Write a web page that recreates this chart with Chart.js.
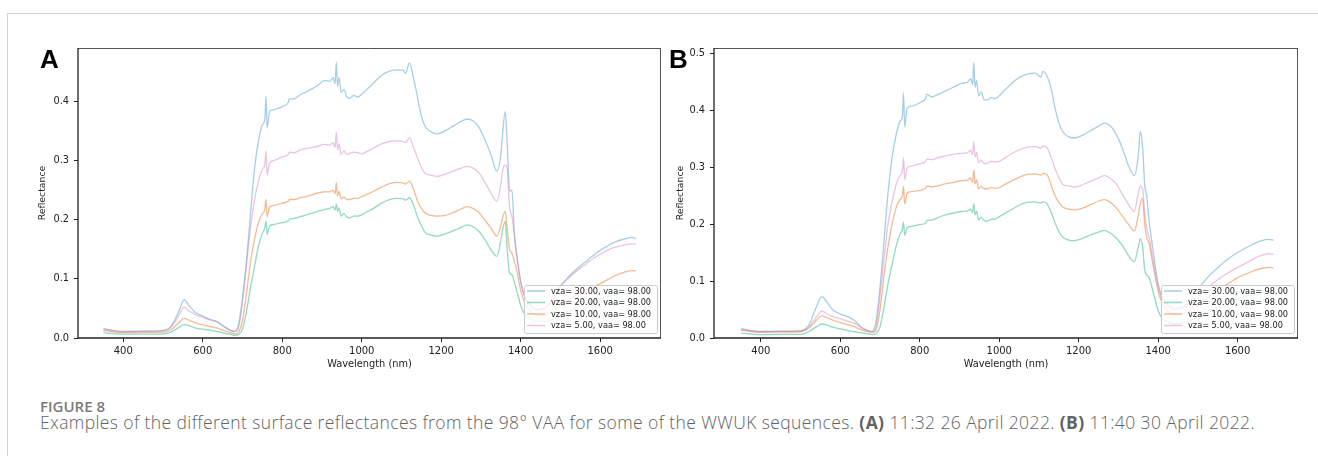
<!DOCTYPE html>
<html>
<head>
<meta charset="utf-8">
<script src="https://cdn.jsdelivr.net/npm/chart.js@4.4.1/dist/chart.umd.min.js"></script>
<style>
  body { margin: 0; background: #fff; width: 1318px; height: 456px; overflow: hidden; position: relative; }
  #frame { position: absolute; left: 7px; top: 13px; right: -2px; bottom: -2px; border-top: 1px solid #d4d4d4; border-left: 1px solid #d4d4d4; }
  canvas { position: absolute; top: 0; }
  #chartA { left: 0; }
  #chartB { left: 660px; }
  .tag { position: absolute; top: 46px; font: bold 26px/26px "Liberation Sans", Arial, sans-serif; color: #000; }
  #figNo { position: absolute; left: 40px; top: 396px; font: 600 15px "Open Sans", sans-serif; color: #7a7a7a; }
  #figText { position: absolute; left: 40px; top: 410px; font: 300 17.5px "Open Sans", sans-serif; color: #626262; white-space: nowrap; }
  #figText b { font-weight: 700; }
</style>
</head>
<body>
<div id="frame"></div>
<canvas id="chartA" width="670" height="380"></canvas>
<canvas id="chartB" width="650" height="380"></canvas>
<div class="tag" style="left:40px">A</div>
<div class="tag" style="left:669px">B</div>
<div id="figNo">FIGURE 8</div>
<div id="figText">Examples of the different surface reflectances from the 98° VAA for some of the WWUK sequences. <b>(A)</b> 11:32 26 April 2022. <b>(B)</b> 11:40 30 April 2022.</div>
<script>
// wavelengths (nm) shared by every curve
const wavelengthNm = [
  350, 380, 400, 450, 500, 520, 540, 553, 565, 580,
  600, 620, 635, 655, 670, 680, 690, 700, 710, 720,
  730, 740, 750, 756, 759, 762, 768, 780, 800, 815,
  818, 830, 845, 860, 875, 890, 905, 920, 928, 933,
  936, 939, 943, 948, 955, 962, 970, 980, 990, 1000,
  1010, 1030, 1050, 1070, 1090, 1105, 1110, 1120, 1130, 1140,
  1150, 1160, 1175, 1190, 1210, 1230, 1250, 1265, 1280, 1295,
  1310, 1325, 1340, 1350, 1355, 1361, 1366, 1372, 1378, 1384,
  1392, 1400, 1410, 1425, 1440, 1460, 1480, 1500, 1520, 1540,
  1560, 1580, 1600, 1620, 1640, 1660, 1680, 1690
];

const seriesLabels = ["vza= 30.00, vaa= 98.00", "vza= 20.00, vaa= 98.00", "vza= 10.00, vaa= 98.00", "vza= 5.00, vaa= 98.00"];

// panel A: 11:32 26 April 2022
const reflA30 = [
  .0158, .012, .011, .0115, .0125, .02, .045, .0648, .055, .044,
  .037, .031, .028, .019, .013, .011, .022, .068, .13, .21,
  .285, .333, .36, .369, .408, .355, .383, .386, .391, .398,
  .404, .404, .411, .416, .421, .427, .435, .434, .44, .43,
  .466, .425, .44, .415, .42, .408, .405, .41, .407, .412,
  .418, .431, .444, .451, .453, .452, .447, .465, .44, .408,
  .375, .357, .348, .345, .35, .358, .366, .37, .367, .356,
  .335, .31, .282, .31, .35, .383, .33, .248, .25, .175,
  .13, .095, .07, .055, .048, .05, .065, .088, .103, .116,
  .127, .138, .148, .156, .163, .167, .17, .168
];
const reflA20 = [
  .009, .007, .0065, .0065, .007, .01, .018, .0225, .021, .017,
  .015, .013, .011, .008, .006, .0045, .006, .015, .045, .085,
  .12, .155, .177, .186, .197, .175, .189, .192, .195, .198,
  .201, .202, .205, .208, .211, .214, .217, .219, .222, .216,
  .226, .214, .22, .206, .21, .205, .203, .206, .206, .208,
  .212, .219, .228, .234, .236, .235, .233, .237, .225, .205,
  .19, .178, .174, .172, .176, .181, .187, .191, .188, .18,
  .166, .149, .138, .165, .185, .197, .15, .11, .107, .095,
  .075, .055, .04, .032, .028, .028, .032, .038, .045, .051,
  .057, .062, .066, .07, .073, .075, .076, .076
];
const reflA10 = [
  .013, .010, .009, .0095, .010, .014, .026, .033, .030, .026,
  .022, .019, .017, .012, .009, .007, .01, .03, .075, .128,
  .166, .195, .21, .217, .234, .205, .221, .224, .228, .231,
  .234, .234, .237, .239, .242, .245, .247, .247, .25, .244,
  .262, .24, .248, .235, .238, .234, .234, .236, .236, .239,
  .242, .248, .255, .261, .263, .262, .260, .265, .252, .232,
  .219, .211, .207, .206, .207, .212, .218, .222, .219, .212,
  .199, .186, .172, .19, .205, .214, .185, .15, .143, .13,
  .108, .08, .06, .045, .038, .038, .045, .055, .063, .072,
  .08, .086, .092, .099, .106, .111, .114, .113
];
const reflA5 = [
  .015, .012, .011, .0115, .0125, .018, .038, .052, .046, .040,
  .035, .030, .027, .018, .013, .011, .018, .06, .125, .185,
  .232, .265, .285, .293, .316, .275, .296, .300, .306, .310,
  .314, .313, .318, .320, .322, .324, .327, .326, .33, .322,
  .348, .318, .328, .31, .316, .31, .312, .314, .313, .311,
  .314, .321, .328, .332, .333, .332, .330, .338, .322, .305,
  .288, .278, .275, .273, .277, .282, .287, .290, .287, .279,
  .263, .245, .231, .26, .285, .292, .285, .22, .205, .175,
  .13, .095, .07, .055, .048, .05, .065, .087, .101, .113,
  .123, .133, .142, .149, .154, .157, .159, .159
];

// panel B: 11:40 30 April 2022
const reflB30 = [
  .0164, .0125, .0117, .012, .0125, .022, .055, .0725, .064, .05,
  .042, .037, .031, .018, .013, .0117, .03, .09, .17, .255,
  .315, .355, .38, .388, .43, .37, .403, .407, .413, .421,
  .428, .423, .427, .432, .437, .442, .447, .449, .455, .445,
  .484, .44, .452, .425, .432, .418, .418, .422, .42, .425,
  .432, .446, .457, .463, .465, .458, .468, .46, .44, .405,
  .378, .362, .353, .351, .356, .364, .372, .377, .372, .357,
  .333, .303, .285, .32, .362, .335, .27, .245, .2, .17,
  .13, .095, .072, .058, .052, .054, .065, .085, .103, .117,
  .13, .141, .15, .158, .165, .171, .173, .172
];
const reflB20 = [
  .009, .0065, .006, .0062, .0065, .011, .02, .0246, .023, .019,
  .016, .013, .011, .009, .007, .006, .008, .02, .055, .095,
  .128, .16, .182, .19, .2035, .18, .193, .196, .199, .202,
  .206, .207, .211, .215, .218, .22, .222, .223, .226, .22,
  .236, .216, .222, .207, .212, .206, .205, .208, .209, .213,
  .217, .225, .233, .238, .239, .237, .239, .236, .222, .203,
  .187, .177, .172, .171, .175, .181, .186, .189, .184, .175,
  .162, .145, .134, .16, .174, .16, .12, .11, .105, .09,
  .068, .048, .035, .028, .025, .026, .03, .037, .044, .051,
  .058, .064, .069, .073, .076, .078, .079, .079
];
const reflB10 = [
  .014, .011, .010, .0105, .011, .017, .031, .039, .036, .032,
  .027, .023, .020, .014, .011, .010, .015, .05, .11, .16,
  .199, .228, .243, .249, .266, .235, .254, .257, .259, .263,
  .267, .265, .267, .270, .272, .274, .276, .277, .281, .273,
  .295, .27, .278, .262, .266, .262, .262, .264, .263, .264,
  .268, .275, .282, .287, .288, .286, .289, .287, .27, .25,
  .238, .23, .226, .225, .228, .234, .24, .243, .238, .228,
  .214, .2, .188, .215, .235, .245, .2, .175, .165, .14,
  .11, .082, .062, .047, .041, .042, .048, .058, .068, .078,
  .088, .097, .106, .112, .118, .122, .124, .123
];
const reflB5 = [
  .015, .012, .011, .0115, .0125, .019, .037, .047, .043, .038,
  .034, .029, .026, .017, .012, .011, .02, .075, .14, .2,
  .238, .268, .285, .292, .316, .278, .298, .302, .306, .310,
  .314, .313, .316, .319, .321, .323, .324, .325, .33, .322,
  .345, .318, .326, .308, .312, .306, .307, .31, .309, .31,
  .314, .323, .330, .335, .336, .333, .337, .334, .318, .298,
  .282, .27, .267, .265, .269, .275, .281, .285, .28, .27,
  .252, .235, .222, .255, .266, .262, .22, .19, .175, .15,
  .118, .09, .068, .055, .05, .052, .06, .073, .086, .097,
  .107, .116, .124, .131, .139, .145, .148, .147
];

const xTickValues = [400, 600, 800, 1000, 1200, 1400, 1600];
const yTicksA = [0, 0.1, 0.2, 0.3, 0.4];
const yTicksB = [0, 0.1, 0.2, 0.3, 0.4, 0.5];

const lineColors = ["rgba(70,150,200,0.47)", "rgba(40,180,140,0.5)", "rgba(230,125,50,0.52)", "rgba(210,130,190,0.47)"];

Chart.defaults.font.family = "'DejaVu Sans', sans-serif";
Chart.defaults.color = "#222";

// spines on four sides + legend box inside the plot, like matplotlib
const boxPlugin = {
  id: 'boxPlugin',
  afterDatasetsDraw(chart) {
    const { ctx, chartArea: a } = chart;
    ctx.save();
    ctx.strokeStyle = "#555";
    ctx.lineWidth = 1;
    ctx.beginPath();
    ctx.moveTo(a.left, a.top + 0.5); ctx.lineTo(a.right, a.top + 0.5);
    ctx.moveTo(a.right - 0.5, a.top); ctx.lineTo(a.right - 0.5, a.bottom);
    ctx.stroke();
    ctx.strokeStyle = "#222";
    ctx.lineWidth = 1.3;
    ctx.beginPath();
    ctx.moveTo(a.left, a.top); ctx.lineTo(a.left, a.bottom);
    ctx.lineTo(a.right, a.bottom);
    ctx.stroke();

    // legend
    const w = 133, h = 48;
    const bx = a.right - 4 - w, by = a.bottom - 5 - h;
    ctx.fillStyle = "rgba(255,255,255,0.8)";
    ctx.strokeStyle = "#cccccc";
    ctx.lineWidth = 1;
    ctx.beginPath();
    ctx.roundRect(bx + 0.5, by + 0.5, w, h, 2);
    ctx.fill();
    ctx.stroke();
    ctx.font = "8.2px 'DejaVu Sans'";
    ctx.textBaseline = "middle";
    chart.data.datasets.forEach((ds, i) => {
      const ry = by + 6 + i * 11.5;
      ctx.strokeStyle = ds.borderColor;
      ctx.lineWidth = 1.5;
      ctx.beginPath();
      ctx.moveTo(bx + 3, ry); ctx.lineTo(bx + 21, ry);
      ctx.stroke();
      ctx.fillStyle = "#222";
      ctx.fillText(ds.label, bx + 27, ry + 0.5);
    });
    ctx.restore();
  }
};

function makeChart(id, series, xMin, xMax, yMax, yTicks, yWidth, padRight, yTitlePad) {
  const datasets = seriesLabels.map((label, i) => ({
    label: label,
    data: wavelengthNm.map((w, j) => ({ x: w, y: series[i][j] })),
    borderColor: lineColors[i],
    borderWidth: 1.3,
    pointRadius: 0,
    cubicInterpolationMode: 'monotone',
    order: 3 - i
  }));
  return new Chart(document.getElementById(id), {
    type: 'line',
    data: { datasets: datasets },
    plugins: [boxPlugin],
    options: {
      responsive: false,
      animation: false,
      layout: { padding: { left: 0, top: 48, right: padRight, bottom: 0 } },
      plugins: { legend: { display: false }, tooltip: { enabled: false } },
      scales: {
        x: {
          type: 'linear', min: xMin, max: xMax,
          afterBuildTicks: s => { s.ticks = xTickValues.map(v => ({ value: v })); },
          afterFit: s => { s.height = 42; },
          grid: { drawOnChartArea: false, drawTicks: true, tickLength: 4, color: "#222" },
          border: { display: false },
          ticks: { font: { size: 10 }, padding: 3, maxRotation: 0, callback: v => String(v) },
          title: { display: true, text: "Wavelength (nm)", font: { size: 9.8 }, padding: { top: 0, bottom: 10 } }
        },
        y: {
          min: 0, max: yMax,
          afterBuildTicks: s => { s.ticks = yTicks.map(v => ({ value: v })); },
          afterFit: s => { s.width = yWidth; },
          grid: { drawOnChartArea: false, drawTicks: true, tickLength: 4, color: "#222" },
          border: { display: false },
          ticks: { font: { size: 9.8 }, padding: 5, callback: v => v.toFixed(1) },
          title: { display: true, text: "Reflectance", font: { size: 9.3 }, padding: { top: yTitlePad, bottom: 0 } }
        }
      }
    }
  });
}

makeChart('chartA', [reflA30, reflA20, reflA10, reflA5], 286, 1753, 0.49, yTicksA, 78, 9, 37);
makeChart('chartB', [reflB30, reflB20, reflB10, reflB5], 282, 1752, 0.509, yTicksB, 54, 12, 15);

// stretch the caption line to the width it has in the figure
const cap = document.getElementById("figText");
const capWidth = cap.getBoundingClientRect().width;
cap.style.letterSpacing = ((1215 - capWidth) / cap.textContent.length) + "px";
</script>
</body>
</html>
